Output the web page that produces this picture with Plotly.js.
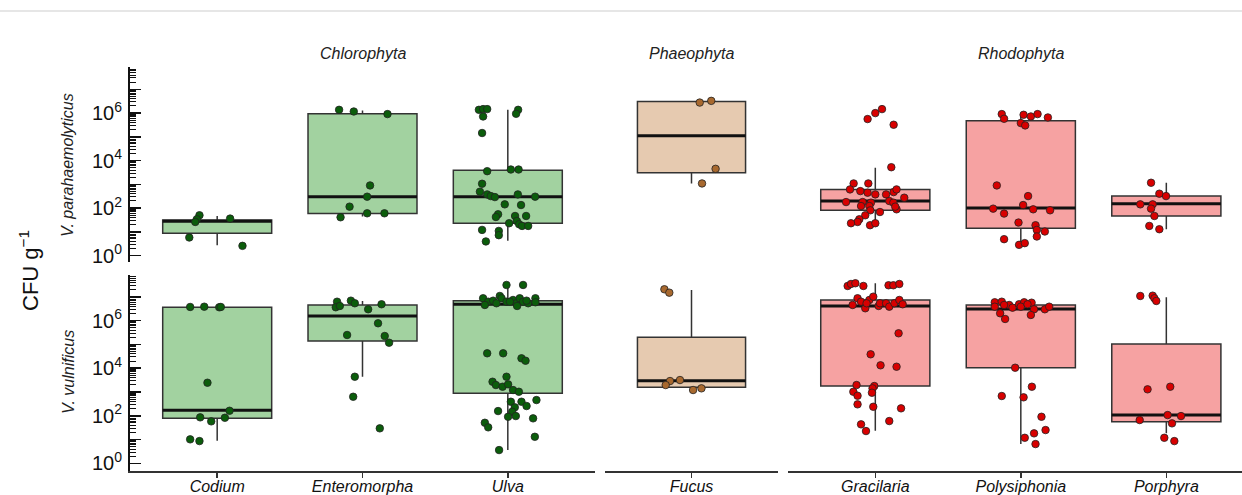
<!DOCTYPE html>
<html><head><meta charset="utf-8">
<script src="https://cdn.plot.ly/plotly-3.0.1.min.js"></script>
<style>html,body{margin:0;padding:0;background:#fff}#chart{width:1242px;height:495px}</style>
</head><body><div id="chart"></div>
<script>
// ---------- DATA (values are log10 CFU g^-1) ----------
const species = ['Codium','Enteromorpha','Ulva','Fucus','Gracilaria','Polysiphonia','Porphyra'];
const phylum  = ['Chlorophyta','Chlorophyta','Chlorophyta','Phaeophyta','Rhodophyta','Rhodophyta','Rhodophyta'];
const phyla   = ['Chlorophyta','Phaeophyta','Rhodophyta'];
const rowLabels = ['V. parahaemolyticus','V. vulnificus'];

// V. parahaemolyticus box statistics (log10)
const vpQ1     = [0.94, 1.768, 1.362, 3.486, 1.906, 1.152, 1.667];
const vpMedian = [1.445, 2.48, 2.48, 5.048, 2.296, 2.003, 2.187];
const vpQ3     = [1.50, 5.97, 3.594, 6.485, 2.786, 5.677, 2.505];
const vpLower  = [0.44, 1.642, 0.62, 3.037, 1.32, 0.452, 1.11];
const vpUpper  = [1.67, 6.108, 6.137, 6.514, 3.695, 5.957, 3.067];

// V. vulnificus box statistics (log10)
const vvQ1     = [1.893, 5.145, 2.945, 3.197, 3.252, 4.022, 1.75];
const vvMedian = [2.23, 6.197, 6.689, 3.475, 6.618, 6.491, 2.032];
const vvQ3     = [6.563, 6.66, 6.841, 5.301, 6.87, 6.66, 5.019];
const vvLower  = [0.951, 3.643, 0.56, 3.084, 1.371, 0.812, 1.262];
const vvUpper  = [6.588, 6.828, 7.501, 7.291, 7.573, 6.798, 6.984];

// individual samples (log10) and their horizontal jitter (category units)
const vpLog = [
  [1.697,1.529,1.416,1.558,0.762,0.41],
  [6.137,6.066,5.957,2.953,2.48,2.061,1.78,1.78,1.613],
  [6.137,6.167,6.167,5.857,6.137,5.97,5.161,3.553,3.624,3.624,3.025,2.69,2.576,2.505,2.463,2.576,2.48,2.157,2.128,1.739,1.625,1.667,1.667,1.362,1.458,1.32,1.248,1.248,1.081,1.039,0.859,0.595],
  [6.443,6.514,3.653,3.037],
  [5.748,5.999,6.167,5.509,3.72,3.037,3.037,2.786,2.715,2.648,2.576,2.576,2.673,2.786,2.438,2.254,2.254,2.229,2.296,2.086,2.086,2.229,1.948,1.906,1.835,1.697,1.529,1.416,1.362,1.278,1.362,2.061],
  [5.957,5.76,5.928,5.857,5.957,5.815,5.58,5.48,2.953,2.505,2.128,1.977,1.768,1.948,1.906,1.391,1.278,1.081,1.014,0.804,0.691,0.452,0.524],
  [3.067,2.606,2.505,2.157,2.157,1.977,1.667,1.248,1.11]
];
const vpJitter = [
  [-0.122,-0.14,-0.151,0.089,-0.192,0.174],
  [-0.161,-0.06,0.172,0.052,0.032,-0.089,0.032,0.151,-0.151],
  [-0.199,-0.17,-0.142,-0.17,0.071,0.057,-0.177,-0.142,0.021,0.074,-0.177,-0.192,-0.142,-0.117,-0.089,0.069,0.188,-0.021,0.091,-0.067,-0.082,0.05,0.126,0.009,0.062,0.078,0.098,0.14,-0.177,-0.062,-0.062,-0.151],
  [0.057,0.137,0.167,0.073],
  [-0.053,0,0.046,0.126,0.11,-0.149,-0.048,-0.174,-0.103,-0.053,0,0.074,0.126,0.146,0.199,-0.201,-0.087,-0.03,0.096,-0.098,-0.041,0.124,0.146,-0.034,0.032,-0.069,-0.11,-0.122,-0.167,-0.036,0,0.137],
  [-0.131,-0.115,0.019,0.069,0.115,0.186,0,0.03,-0.165,0.05,0.016,-0.19,-0.115,0.085,0.201,-0.016,0.101,0.11,0.165,0.11,-0.115,-0.012,0.027],
  [-0.105,-0.048,-0.002,-0.179,-0.094,-0.105,-0.082,-0.117,-0.048]
];
const vvLog = [
  [6.576,6.588,6.563,6.576,3.391,2.213,1.935,1.767,1.918,1.01,0.938],
  [6.798,6.563,6.618,6.841,6.731,6.689,6.479,5.89,5.398,5.355,5.074,3.643,2.802,1.472],
  [7.501,7.501,6.942,6.798,6.66,6.841,7.038,6.942,6.798,6.87,6.731,6.942,6.798,6.731,6.942,6.773,6.731,6.798,6.618,6.841,4.628,4.628,4.417,4.316,3.643,3.433,3.294,3.223,3.324,3.084,3.012,2.663,2.592,2.592,2.411,2.356,2.171,2.2,1.96,1.99,1.893,1.708,1.515,1.119,0.56],
  [7.32,7.177,3.462,3.504,3.294,3.084,3.155],
  [7.459,7.543,7.573,7.459,7.488,7.488,7.543,6.942,6.798,6.87,7.009,6.66,6.521,6.731,6.618,6.731,6.731,6.588,6.731,6.87,6.689,5.469,4.586,4.123,4.064,3.294,3.252,3.155,3.012,2.844,2.97,2.482,2.381,2.314,1.641,1.78,1.359],
  [6.773,6.798,6.66,6.546,6.689,6.773,6.756,6.588,6.66,6.588,6.689,6.479,6.479,6.588,6.31,6.071,6.239,4.022,3.223,2.832,2.777,1.96,1.401,1.262,1.077,0.812],
  [7.038,7.051,6.942,6.828,3.113,3.223,2.032,1.99,1.822,1.683,1.077,0.938]
];
const vvJitter = [
  [-0.186,-0.089,0.014,0.025,-0.067,0.085,-0.117,-0.041,0.053,-0.186,-0.122],
  [-0.175,-0.184,-0.156,-0.08,-0.053,0.131,0.039,0.107,-0.106,0.153,0.183,-0.053,-0.064,0.119],
  [-0.009,0.105,-0.17,-0.135,-0.158,-0.101,-0.055,-0.043,-0.009,0.036,0.06,0.082,0.105,0.14,0.19,0.19,-0.078,0.014,0.064,0.129,-0.142,-0.032,0.094,0.122,-0.009,-0.105,-0.082,-0.036,0.002,0.036,0.076,0.197,0.021,0.094,0.129,0.048,0.03,-0.067,0.002,0.055,0.174,-0.158,-0.135,0.186,-0.06],
  [-0.188,-0.154,-0.149,-0.08,-0.179,0.011,0.069],
  [-0.19,-0.167,-0.137,-0.082,0.091,0.124,0.165,-0.122,-0.098,-0.041,-0.014,-0.156,-0.069,-0.06,0.023,0.032,0.074,0.096,0.131,0.165,0.188,0.16,-0.032,0.036,0.146,-0.129,-0.007,-0.019,-0.151,-0.122,-0.023,-0.122,-0.014,0.177,-0.098,0.096,-0.064],
  [-0.179,-0.131,-0.08,-0.057,-0.012,0.023,0.074,-0.179,-0.115,0,0.046,0.091,0.165,0.195,-0.142,-0.108,0.069,-0.039,0.076,-0.131,0.019,0.142,0.17,0.091,0.027,0.101],
  [-0.179,-0.094,-0.082,-0.069,-0.129,0.027,0.009,0.101,-0.183,0.039,-0.014,0.055]
];

// ---------- STYLE / LAYOUT ----------
const W = 1242, H = 495;
const px = v => v / W, py = v => 1 - v / H;
const FONT = 'Liberation Sans, Arial, Helvetica, sans-serif';
const colDom = [[130,595],[605,778],[788,1242]];
const colRange = [[-0.6,2.6],[-0.6,0.6],[-0.6,2.52]];
const rowDom = [[67,262],[275,471]];
const rowRange = [[-0.27,7.94],[-0.32,7.92]];
const colors = {
  Chlorophyta: {fill:'#a2d2a0', pt:'#0b5d0b'},
  Phaeophyta:  {fill:'#e6cab0', pt:'#a8692f'},
  Rhodophyta:  {fill:'#f6a2a2', pt:'#d80000'}
};
const BW = 0.75;
const p10 = v => Math.pow(10, v);

const stats = [
  {q1:vpQ1, med:vpMedian, q3:vpQ3, lo:vpLower, hi:vpUpper, pts:vpLog, jit:vpJitter},
  {q1:vvQ1, med:vvMedian, q3:vvQ3, lo:vvLower, hi:vvUpper, pts:vvLog, jit:vvJitter}
];

const traces = [];
const colPositions = [[],[],[]];
species.forEach((s,i) => { colPositions[phyla.indexOf(phylum[i])].push(s); });
const suf = n => (n === 1 ? '' : String(n));

for (let r = 0; r < 2; r++) {
  const st = stats[r];
  species.forEach((s, i) => {
    const c = phyla.indexOf(phylum[i]);
    const pos = colPositions[c].indexOf(s);
    const n = r * 3 + c + 1;
    const xa = 'x' + suf(n), ya = 'y' + suf(n);
    const col = colors[phylum[i]];
    traces.push({
      type:'box', x:[pos], q1:[p10(st.q1[i])], median:[p10(st.med[i])], q3:[p10(st.q3[i])],
      lowerfence:[p10(st.lo[i])], upperfence:[p10(st.hi[i])],
      width:BW, fillcolor:col.fill, line:{color:'#333', width:1.5}, whiskerwidth:0,
      boxpoints:false, hoverinfo:'skip', showlegend:false, xaxis:xa, yaxis:ya
    });
    traces.push({
      type:'scatter', mode:'lines', x:[pos - BW/2, pos + BW/2], y:[p10(st.med[i]), p10(st.med[i])],
      line:{color:'#111', width:3}, hoverinfo:'skip', showlegend:false, xaxis:xa, yaxis:ya
    });
    traces.push({
      type:'scatter', mode:'markers', x:st.jit[i].map(d => pos + d), y:st.pts[i].map(p10),
      marker:{size:7.5, color:col.pt, line:{color:'#222', width:0.8}},
      showlegend:false, xaxis:xa, yaxis:ya
    });
  });
}

const labelDecades = [0,2,4,6];
const oddDecades = [1,3,5,7];
const minorVals = [];
[0,1,2,3,4,5,6,7].forEach(d => { for (let k = 2; k <= 9; k++) minorVals.push(k * p10(d)); });

const layout = {
  width:W, height:H, margin:{l:0, r:0, t:0, b:0},
  paper_bgcolor:'#fff', plot_bgcolor:'rgba(0,0,0,0)',
  font:{family:FONT, color:'#111'},
  showlegend:false,
  annotations:[], shapes:[]
};

for (let r = 0; r < 2; r++) {
  for (let c = 0; c < 3; c++) {
    const n = r * 3 + c + 1;
    const xk = 'xaxis' + suf(n), yk = 'yaxis' + suf(n);
    const xa = {
      domain:[px(colDom[c][0]), px(colDom[c][1])], range:colRange[c], anchor:'y' + suf(n),
      showgrid:false, zeroline:false, fixedrange:true
    };
    if (r === 0) { xa.visible = false; }
    else {
      Object.assign(xa, {
        showline:true, linecolor:'#333', linewidth:2, ticks:'outside', ticklen:5, tickwidth:1.5, tickcolor:'#333',
        tickmode:'array', tickvals:colPositions[c].map((s,k)=>k),
        ticktext:colPositions[c].map(s => '<i>' + s + '</i>'),
        tickfont:{family:FONT, size:16, color:'#111'}, ticklabelstandoff:-5
      });
    }
    layout[xk] = xa;
    const ya = {
      type:'log', domain:[py(rowDom[r][1]), py(rowDom[r][0])], range:rowRange[r], anchor:'x' + suf(n),
      showgrid:false, zeroline:false, fixedrange:true
    };
    if (c !== 0) { ya.visible = false; }
    else {
      Object.assign(ya, {
        showline:true, linecolor:'#111', linewidth:2, ticks:'inside', ticklen:11, tickwidth:1.5, tickcolor:'#111',
        tickmode:'array', tickvals:labelDecades.map(p10), ticktext:labelDecades.map(d => '10<sup>' + d + '</sup>'),
        tickfont:{family:FONT, size:20, color:'#111'}, ticklabelstandoff:2,
        minor:{tickmode:'array', tickvals:minorVals, ticks:'inside', ticklen:6, tickwidth:1, tickcolor:'#111', showgrid:false}
      });
    }
    layout[yk] = ya;
  }
  // overlay axis carrying the unlabeled odd-decade major ticks
  const ov = 7 + r;
  layout['yaxis' + ov] = {
    type:'log', overlaying:'y' + suf(r * 3 + 1), anchor:'x' + suf(r * 3 + 1), side:'left',
    range:rowRange[r], showticklabels:false, showline:false, showgrid:false, zeroline:false,
    ticks:'inside', ticklen:11, tickwidth:1.5, tickcolor:'#111',
    tickmode:'array', tickvals:oddDecades.map(p10), fixedrange:true
  };
  traces.push({type:'scatter', mode:'markers', x:[], y:[], xaxis:'x' + suf(r * 3 + 1), yaxis:'y' + ov,
    showlegend:false, hoverinfo:'skip'});
}

// strip labels
const stripRefs = [['x', 1], ['x2', 0], ['x3', 1]];
phyla.forEach((p, c) => {
  layout.annotations.push({
    text:'<i>' + p + '</i>', xref:stripRefs[c][0], x:stripRefs[c][1], yref:'paper', y:py(53),
    xanchor:'center', yanchor:'middle', showarrow:false, font:{family:FONT, size:16, color:'#222'}
  });
});
// row labels
const rowLabelY = [165, 372];
rowLabels.forEach((t, r) => {
  layout.annotations.push({
    text:'<i>' + t + '</i>', xref:'paper', x:px(68), yref:'paper', y:py(rowLabelY[r]),
    xanchor:'center', yanchor:'middle', textangle:-90, showarrow:false,
    font:{family:FONT, size:16, color:'#222'}
  });
});
// y axis title
layout.annotations.push({
  text:'CFU g<sup>\u22121</sup>', xref:'paper', x:px(29), yref:'paper', y:py(271),
  xanchor:'center', yanchor:'middle', textangle:-90, showarrow:false,
  font:{family:FONT, size:22, color:'#111'}
});
// faint top rule
layout.shapes.push({type:'line', xref:'paper', yref:'paper', x0:0, x1:1, y0:py(11), y1:py(11),
  line:{color:'#dedede', width:1.5}});

Plotly.newPlot('chart', traces, layout, {displayModeBar:false, staticPlot:true});
</script></body></html>
